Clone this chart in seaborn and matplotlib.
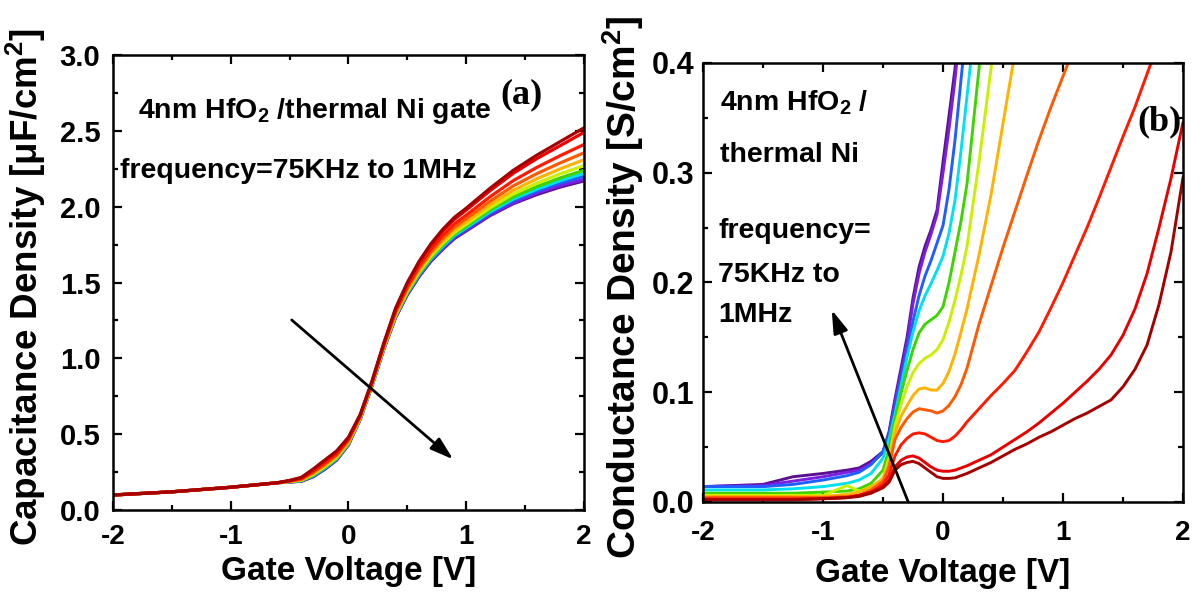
import numpy as np
import pandas as pd
import matplotlib
matplotlib.use("Agg")
import matplotlib.pyplot as plt
import seaborn as sns
from matplotlib.ticker import MultipleLocator

# ---------------- data ----------------
# curve order: highest frequency (1MHz, purple) -> lowest (75KHz, dark red)
curve_names = ["c01", "c02", "c03", "c04", "c05", "c06", "c07", "c08", "c09", "c10", "c11"]
curve_colors = ["#5a0f92", "#7a1ee0", "#1f5eff", "#00e0f0", "#3fd400", "#c8f000",
                "#ffb300", "#ff5a00", "#ff1a00", "#e80000", "#a50000"]

# Panel (a): capacitance density vs gate voltage
va = [-2.0, -1.5, -1.0, -0.6, -0.5, -0.4, -0.3, -0.2, -0.1, 0.0, 0.1, 0.2, 0.3, 0.4,
      0.5, 0.6, 0.7, 0.8, 0.9, 1.0, 1.2, 1.4, 1.6, 1.8, 2.0]
cap_c01 = [0.099, 0.12, 0.15, 0.18, 0.185, 0.19, 0.22, 0.27, 0.33, 0.43, 0.60, 0.82, 1.06, 1.27, 1.42, 1.54, 1.64, 1.72, 1.79, 1.84, 1.94, 2.02, 2.08, 2.13, 2.17]
cap_c02 = [0.099, 0.12, 0.15, 0.18, 0.185, 0.19, 0.22, 0.27, 0.33, 0.43, 0.60, 0.82, 1.06, 1.27, 1.42, 1.54, 1.643, 1.72, 1.794, 1.845, 1.945, 2.025, 2.09, 2.14, 2.18]
cap_c03 = [0.099, 0.12, 0.15, 0.18, 0.186, 0.192, 0.225, 0.275, 0.335, 0.435, 0.603, 0.823, 1.064, 1.275, 1.427, 1.549, 1.65, 1.732, 1.803, 1.854, 1.956, 2.04, 2.103, 2.157, 2.20]
cap_c04 = [0.099, 0.12, 0.15, 0.18, 0.186, 0.194, 0.227, 0.278, 0.338, 0.437, 0.604, 0.824, 1.066, 1.278, 1.431, 1.554, 1.656, 1.738, 1.81, 1.861, 1.965, 2.051, 2.116, 2.172, 2.22]
cap_c05 = [0.099, 0.12, 0.15, 0.18, 0.187, 0.195, 0.23, 0.282, 0.342, 0.44, 0.606, 0.826, 1.068, 1.282, 1.436, 1.56, 1.663, 1.746, 1.818, 1.87, 1.976, 2.064, 2.132, 2.19, 2.24]
cap_c06 = [0.099, 0.12, 0.15, 0.18, 0.188, 0.197, 0.235, 0.287, 0.347, 0.445, 0.609, 0.829, 1.072, 1.287, 1.443, 1.569, 1.673, 1.758, 1.83, 1.884, 1.992, 2.084, 2.155, 2.217, 2.27]
cap_c07 = [0.099, 0.12, 0.15, 0.18, 0.189, 0.20, 0.24, 0.294, 0.354, 0.45, 0.612, 0.832, 1.076, 1.294, 1.452, 1.58, 1.686, 1.772, 1.846, 1.90, 2.012, 2.108, 2.184, 2.25, 2.31]
cap_c08 = [0.099, 0.12, 0.15, 0.18, 0.19, 0.203, 0.247, 0.302, 0.362, 0.457, 0.616, 0.836, 1.081, 1.302, 1.462, 1.593, 1.70, 1.789, 1.864, 1.92, 2.035, 2.137, 2.218, 2.289, 2.355]
cap_c09 = [0.099, 0.12, 0.15, 0.18, 0.192, 0.207, 0.255, 0.311, 0.371, 0.465, 0.621, 0.841, 1.088, 1.311, 1.475, 1.609, 1.719, 1.81, 1.887, 1.944, 2.064, 2.172, 2.259, 2.337, 2.41]
cap_c10 = [0.099, 0.12, 0.15, 0.18, 0.194, 0.213, 0.265, 0.325, 0.385, 0.475, 0.627, 0.847, 1.096, 1.325, 1.493, 1.631, 1.745, 1.838, 1.917, 1.977, 2.104, 2.22, 2.317, 2.403, 2.49]
cap_c11 = [0.099, 0.12, 0.15, 0.18, 0.195, 0.215, 0.27, 0.33, 0.39, 0.48, 0.63, 0.85, 1.10, 1.33, 1.50, 1.64, 1.755, 1.85, 1.93, 1.99, 2.12, 2.24, 2.34, 2.43, 2.52]

# Panel (b): conductance density vs gate voltage (nan = beyond plotted range)
nan = np.nan
vb = [-2.0, -1.5, -1.25, -1.0, -0.8, -0.7, -0.6, -0.5, -0.45, -0.4, -0.35, -0.3, -0.25,
      -0.2, -0.15, -0.1, -0.05, 0.0, 0.05, 0.1, 0.15, 0.2, 0.3, 0.4, 0.5, 0.6, 0.7, 0.8,
      0.9, 1.0, 1.1, 1.2, 1.3, 1.4, 1.5, 1.6, 1.7, 1.8, 1.9, 2.0]
g_c01 = [0.014, 0.016, 0.023, 0.026, 0.029, 0.031, 0.037, 0.046, 0.064, 0.094, 0.122, 0.150, 0.186, 0.214, 0.233, 0.248, 0.266, 0.31, 0.352, 0.395, 0.46] + [nan] * 19
g_c02 = [0.014, 0.015, 0.019, 0.023, 0.027, 0.029, 0.035, 0.045, 0.062, 0.091, 0.118, 0.146, 0.181, 0.208, 0.228, 0.244, 0.262, 0.30, 0.34, 0.385, 0.44] + [nan] * 19
g_c03 = [0.014, 0.014, 0.016, 0.020, 0.024, 0.027, 0.034, 0.046, 0.061, 0.087, 0.112, 0.138, 0.165, 0.188, 0.206, 0.220, 0.236, 0.252, 0.285, 0.33, 0.385, 0.44] + [nan] * 18
g_c04 = [0.011, 0.011, 0.012, 0.014, 0.017, 0.020, 0.026, 0.040, 0.057, 0.080, 0.106, 0.132, 0.155, 0.174, 0.188, 0.199, 0.211, 0.224, 0.245, 0.275, 0.32, 0.37, 0.47] + [nan] * 17
g_c05 = [0.008, 0.008, 0.008, 0.009, 0.010, 0.012, 0.017, 0.029, 0.048, 0.075, 0.099, 0.120, 0.139, 0.154, 0.162, 0.166, 0.170, 0.178, 0.200, 0.228, 0.256, 0.29, 0.395, 0.52] + [nan] * 16
g_c06 = [0.006, 0.006, 0.006, 0.006, 0.015, 0.010, 0.012, 0.022, 0.040, 0.069, 0.089, 0.105, 0.118, 0.126, 0.131, 0.134, 0.139, 0.148, 0.164, 0.184, 0.207, 0.233, 0.31, 0.395, 0.48] + [nan] * 15
g_c07 = [0.005, 0.005, 0.005, 0.005, 0.007, 0.009, 0.014, 0.021, 0.035, 0.063, 0.078, 0.088, 0.097, 0.103, 0.104, 0.102, 0.102, 0.108, 0.119, 0.135, 0.155, 0.176, 0.225, 0.28, 0.345, 0.41] + [nan] * 14
g_c08 = [0.004, 0.004, 0.004, 0.004, 0.005, 0.006, 0.011, 0.019, 0.032, 0.057, 0.068, 0.076, 0.082, 0.085, 0.084, 0.083, 0.081, 0.083, 0.088, 0.096, 0.107, 0.122, 0.162, 0.197, 0.232, 0.265, 0.298, 0.33, 0.36, 0.388, 0.416] + [nan] * 9
g_c09 = [0.0025, 0.0025, 0.0025, 0.003, 0.004, 0.006, 0.009, 0.016, 0.025, 0.042, 0.052, 0.058, 0.062, 0.063, 0.062, 0.059, 0.056, 0.055, 0.056, 0.060, 0.066, 0.073, 0.085, 0.097, 0.108, 0.12, 0.137, 0.155, 0.177, 0.20, 0.225, 0.25, 0.277, 0.305, 0.333, 0.36, 0.39, 0.42] + [nan] * 2
g_c10 = [0.0025, 0.0025, 0.0025, 0.003, 0.004, 0.006, 0.009, 0.014, 0.020, 0.032, 0.038, 0.041, 0.042, 0.040, 0.036, 0.032, 0.029, 0.028, 0.028, 0.029, 0.031, 0.033, 0.038, 0.043, 0.050, 0.057, 0.064, 0.072, 0.081, 0.09, 0.10, 0.11, 0.121, 0.134, 0.152, 0.176, 0.208, 0.25, 0.295, 0.346]
g_c11 = [0.002, 0.002, 0.002, 0.003, 0.004, 0.005, 0.008, 0.013, 0.018, 0.029, 0.034, 0.036, 0.037, 0.035, 0.031, 0.027, 0.023, 0.0215, 0.0215, 0.022, 0.024, 0.026, 0.031, 0.036, 0.042, 0.048, 0.053, 0.059, 0.064, 0.070, 0.076, 0.081, 0.087, 0.093, 0.105, 0.121, 0.143, 0.18, 0.228, 0.296]

x_ticks = [-2, -1, 0, 1, 2]
ya_ticks = [0.0, 0.5, 1.0, 1.5, 2.0, 2.5, 3.0]
yb_ticks = [0.0, 0.1, 0.2, 0.3, 0.4]

# ---------------- frames ----------------
cap_series = [cap_c01, cap_c02, cap_c03, cap_c04, cap_c05, cap_c06, cap_c07, cap_c08, cap_c09, cap_c10, cap_c11]
g_series = [g_c01, g_c02, g_c03, g_c04, g_c05, g_c06, g_c07, g_c08, g_c09, g_c10, g_c11]
dfa = pd.concat([pd.DataFrame({"V": va, "C": s, "curve": n}) for n, s in zip(curve_names, cap_series)])
dfb = pd.concat([pd.DataFrame({"V": vb, "G": s, "curve": n}) for n, s in zip(curve_names, g_series)]).dropna()

# ---------------- style ----------------
sns.set_style("ticks")
plt.rcParams["font.family"] = ["Liberation Sans", "DejaVu Sans"]
plt.rcParams["font.weight"] = "bold"
plt.rcParams["axes.labelweight"] = "bold"
for key in ["text.color", "axes.labelcolor", "xtick.color", "ytick.color", "axes.edgecolor"]:
    plt.rcParams[key] = "black"
plt.rcParams["mathtext.fontset"] = "custom"
plt.rcParams["mathtext.rm"] = "Liberation Sans:bold"
plt.rcParams["mathtext.bf"] = "Liberation Sans:bold"
plt.rcParams["mathtext.it"] = "Liberation Sans:bold"
plt.rcParams["mathtext.default"] = "rm"

fig = plt.figure(figsize=(12.03, 6.04), dpi=100)
axa = fig.add_axes([0.0939, 0.1556, 0.3915, 0.7533])
axb = fig.add_axes([0.5844, 0.1689, 0.3990, 0.7268])

sns.lineplot(data=dfa, x="V", y="C", hue="curve", hue_order=curve_names, palette=curve_colors,
             estimator=None, sort=False, legend=False, linewidth=2.3, ax=axa)
sns.lineplot(data=dfb, x="V", y="G", hue="curve", hue_order=curve_names, palette=curve_colors,
             estimator=None, sort=False, legend=False, linewidth=2.1, ax=axb)

def style_axes(ax, yticks, yminor, xpad, ypad, ysize):
    ax.set_xlim(-2, 2)
    ax.set_ylim(yticks[0], yticks[-1])
    ax.set_xticks(x_ticks)
    ax.set_xticklabels([str(t) for t in x_ticks])
    ax.set_yticks(yticks)
    ax.set_yticklabels([f"{t:.1f}" for t in yticks])
    ax.xaxis.set_minor_locator(MultipleLocator(0.5))
    ax.yaxis.set_minor_locator(MultipleLocator(yminor))
    ax.tick_params(which="both", direction="in", top=True, right=True, width=1.6, color="black")
    ax.tick_params(which="major", length=6.5)
    ax.tick_params(which="minor", length=3.5)
    ax.tick_params(axis="x", which="major", pad=xpad, labelsize=20)
    ax.tick_params(axis="y", which="major", pad=ypad, labelsize=ysize)
    for lab in ax.get_xticklabels() + ax.get_yticklabels():
        lab.set_fontweight("bold")
        lab.set_color("black")
    for sp in ax.spines.values():
        sp.set_linewidth(1.8)
        sp.set_color("black")

style_axes(axa, ya_ticks, 0.25, 10, 9, 21)
style_axes(axb, yb_ticks, 0.05, 13, 6, 22)

axa.set_xlabel("Gate Voltage [V]", fontsize=24, fontweight="bold")
axa.set_ylabel(r"Capacitance Density [μF/cm$^{2}$]", fontsize=26.5, fontweight="bold")
axb.set_xlabel("Gate Voltage [V]", fontsize=24, fontweight="bold")
axb.set_ylabel(r"Conductance Density [S/cm$^{2}$]", fontsize=28, fontweight="bold")
axa.xaxis.set_label_coords(0.5, -0.102)
axb.xaxis.set_label_coords(0.5, -0.128)
axa.yaxis.set_label_coords(-0.138, 0.49)
axb.yaxis.set_label_coords(-0.119, 0.49)

# annotations panel (a)
axa.text(-1.788, 2.585, r"4nm HfO$_{2}$ /thermal Ni gate", fontsize=20.5, fontweight="bold",
         ha="left", va="baseline")
axa.text(-1.94, 2.19, "frequency=75KHz to 1MHz", fontsize=20.5, fontweight="bold",
         ha="left", va="baseline")
axa.text(1.469, 2.74, "(a)", family=["Liberation Serif", "DejaVu Serif"], fontsize=26,
         fontweight="bold", ha="center", va="center")
axa.annotate("", xy=(0.89, 0.334), xytext=(-0.482, 1.253),
             arrowprops=dict(arrowstyle="-|>,head_length=0.7,head_width=0.22", color="black",
                             lw=2.0, mutation_scale=20, shrinkA=0, shrinkB=0))

# annotations panel (b)
axb.text(-1.858, 0.357, r"4nm HfO$_{2}$ /", fontsize=20.5, fontweight="bold", ha="left", va="baseline")
axb.text(-1.858, 0.3098, "thermal Ni", fontsize=20.5, fontweight="bold", ha="left", va="baseline")
axb.text(-1.875, 0.2405, "frequency=", fontsize=20.5, fontweight="bold", ha="left", va="baseline")
axb.text(-1.875, 0.2005, "75KHz to", fontsize=20.5, fontweight="bold", ha="left", va="baseline")
axb.text(-1.875, 0.164, "1MHz", fontsize=20.5, fontweight="bold", ha="left", va="baseline")
axb.text(1.808, 0.3465, "(b)", family=["Liberation Serif", "DejaVu Serif"], fontsize=26,
         fontweight="bold", ha="center", va="center")
axb.annotate("", xy=(-0.9275, 0.175), xytext=(-0.29, 0.0),
             arrowprops=dict(arrowstyle="-|>,head_length=0.7,head_width=0.22", color="black",
                             lw=2.0, mutation_scale=20, shrinkA=0, shrinkB=0))

fig.savefig("out.png", dpi=100)
